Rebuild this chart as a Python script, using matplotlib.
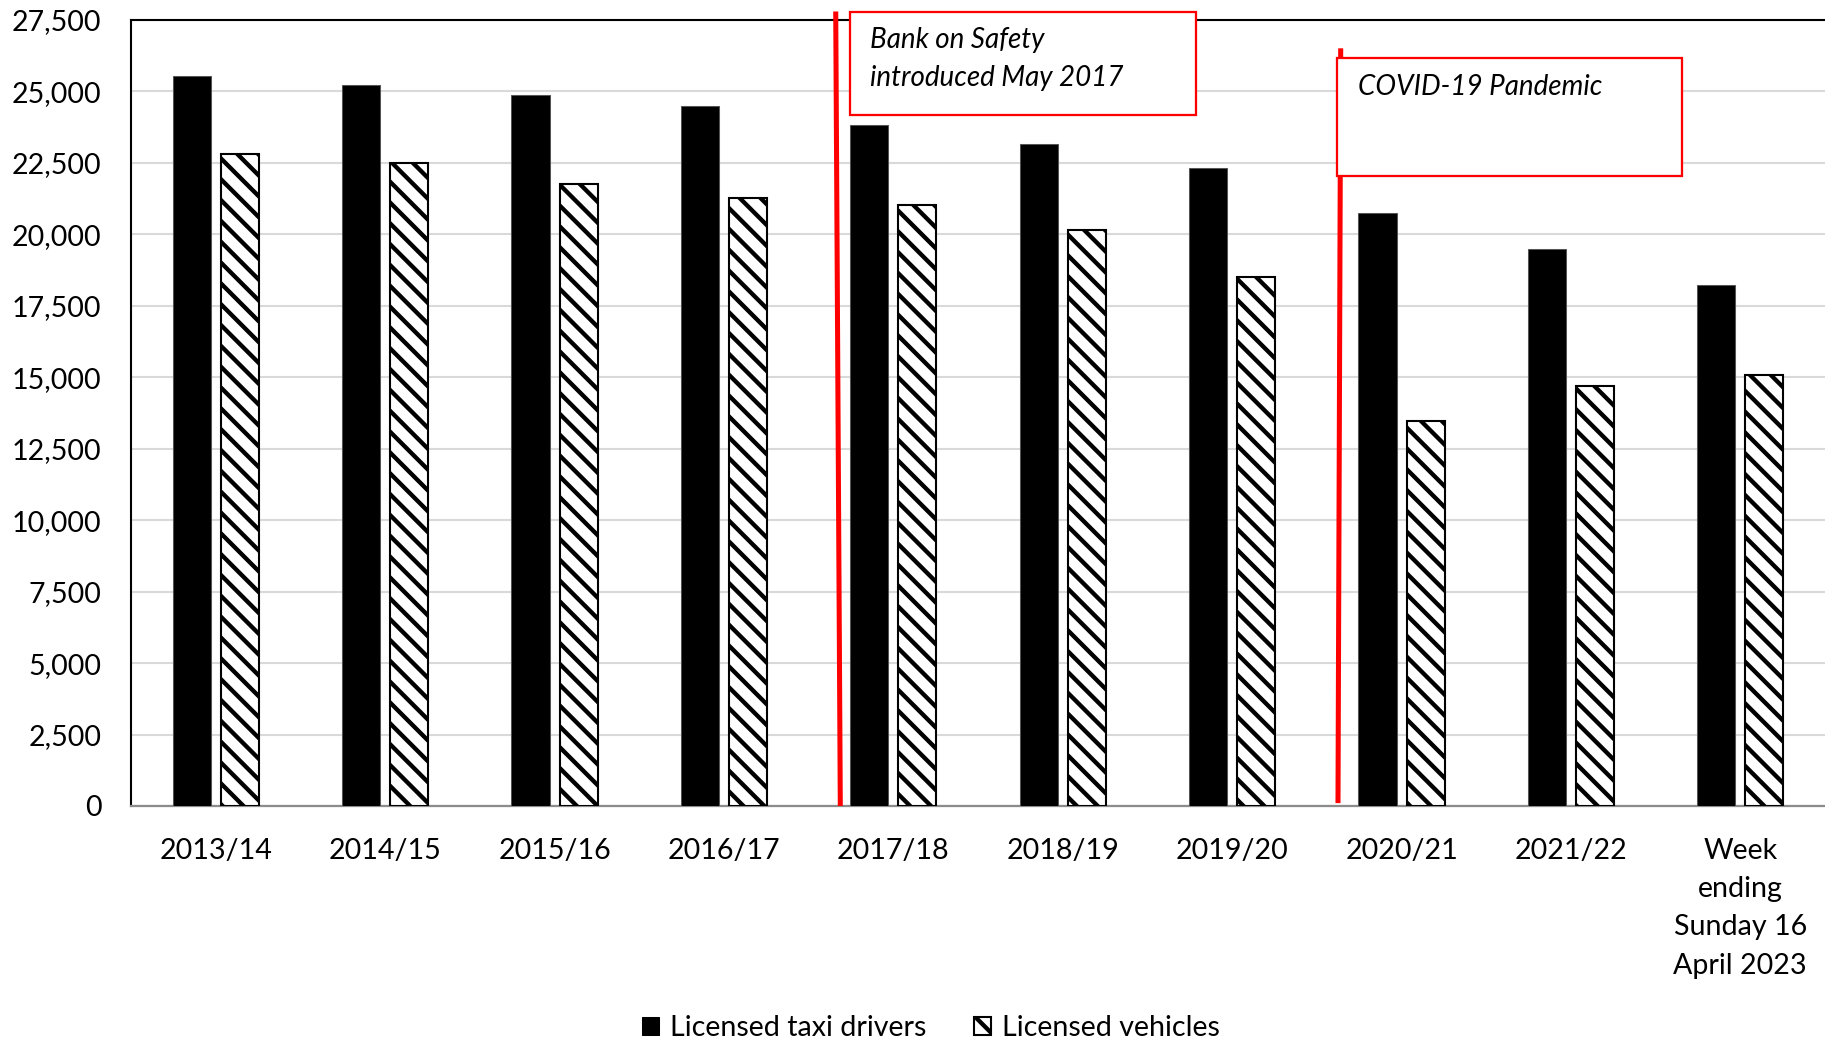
import matplotlib
matplotlib.use("Agg")
import matplotlib.pyplot as plt
from matplotlib.patches import Rectangle, Patch
from matplotlib.ticker import FuncFormatter, MultipleLocator
import numpy as np

# ---- data ----
categories = ["2013/14", "2014/15", "2015/16", "2016/17", "2017/18",
              "2018/19", "2019/20", "2020/21", "2021/22",
              "Week\nending\nSunday 16\nApril 2023"]
drivers = [25540, 25220, 24860, 24500, 23830, 23150, 22330, 20750, 19480, 18220]
vehicles = [22830, 22510, 21770, 21280, 21030, 20150, 18520, 13470, 14710, 15080]
series_names = ["Licensed taxi drivers", "Licensed vehicles"]
notes = ["Bank on Safety\nintroduced May 2017", "COVID-19 Pandemic"]

HATCH = "\\\\"
HATCH_LW = 2.5

plt.rcParams["font.family"] = ["Lato", "DejaVu Sans"]
plt.rcParams["hatch.linewidth"] = HATCH_LW


def thicken_hatch(patches):
    for p in patches:
        if hasattr(p, "set_hatch_linewidth"):
            p.set_hatch_linewidth(HATCH_LW)


DPI = 125
fig = plt.figure(figsize=(1825 / DPI, 1044 / DPI), dpi=DPI)
ax = fig.add_axes([0.0718, 0.228, 0.9282, 0.7528])

x = np.arange(len(categories))
w = 0.225
off = 0.142
ax.bar(x - off, drivers, width=w, color="black", edgecolor="#555555",
       linewidth=0.6, zorder=3)
veh_bars = ax.bar(x + off, vehicles, width=w, color="white", edgecolor="black",
                  hatch=HATCH, linewidth=1.2, zorder=3)
thicken_hatch(veh_bars)

ax.set_xlim(-0.5, len(categories) - 0.5)
ax.set_ylim(0, 27500)
ax.yaxis.set_major_locator(MultipleLocator(2500))
ax.yaxis.set_major_formatter(FuncFormatter(lambda v, p: f"{v:,.0f}"))
ax.set_xticks(x)
ax.set_xticklabels(categories, linespacing=1.58)
ax.tick_params(axis="y", length=0, pad=17, labelsize=16.5)
ax.tick_params(axis="x", length=0, pad=18.5, labelsize=16.5)

ax.grid(axis="y", color="#d9d9d9", linewidth=1.2)
ax.set_axisbelow(True)
for s in ("top", "left"):
    ax.spines[s].set_color("black")
    ax.spines[s].set_linewidth(1.2)
ax.spines["bottom"].set_color("#8c8c8c")
ax.spines["bottom"].set_linewidth(1.3)
ax.spines["right"].set_visible(False)

# event markers and call-out boxes
red = "#ff0000"
ax.plot([3.660, 3.687], [27800, 0], color=red, linewidth=2.9,
        clip_on=False, zorder=4, solid_capstyle="butt")
ax.plot([6.641, 6.625], [26510, 100], color=red, linewidth=2.9,
        clip_on=False, zorder=4, solid_capstyle="butt")

ax.add_patch(Rectangle((3.744, 24180), 5.787 - 3.744, 27780 - 24180,
                       facecolor="white", edgecolor=red, linewidth=1.3,
                       clip_on=False, zorder=5))
ax.text(3.862, 26140, notes[0], fontsize=16, style="italic",
        ha="left", va="center", linespacing=1.55, zorder=6)

ax.add_patch(Rectangle((6.619, 22040), 8.656 - 6.619, 26170 - 22040,
                       facecolor="white", edgecolor=red, linewidth=1.3,
                       clip_on=False, zorder=5))
ax.text(6.743, 25140, notes[1], fontsize=16, style="italic",
        ha="left", va="center", zorder=6)

handles = [Patch(facecolor="black", edgecolor="black", linewidth=0.6),
           Patch(facecolor="white", edgecolor="black", hatch=HATCH,
                 linewidth=1.2)]
thicken_hatch(handles[1:])
fig.legend(handles, series_names, loc="center", bbox_to_anchor=(0.510, 0.0153),
           ncol=2, frameon=False, fontsize=16.5, handlelength=0.6,
           handleheight=0.6, handletextpad=0.38, columnspacing=1.65,
           borderpad=0.1)

fig.savefig("out.png", dpi=DPI)
